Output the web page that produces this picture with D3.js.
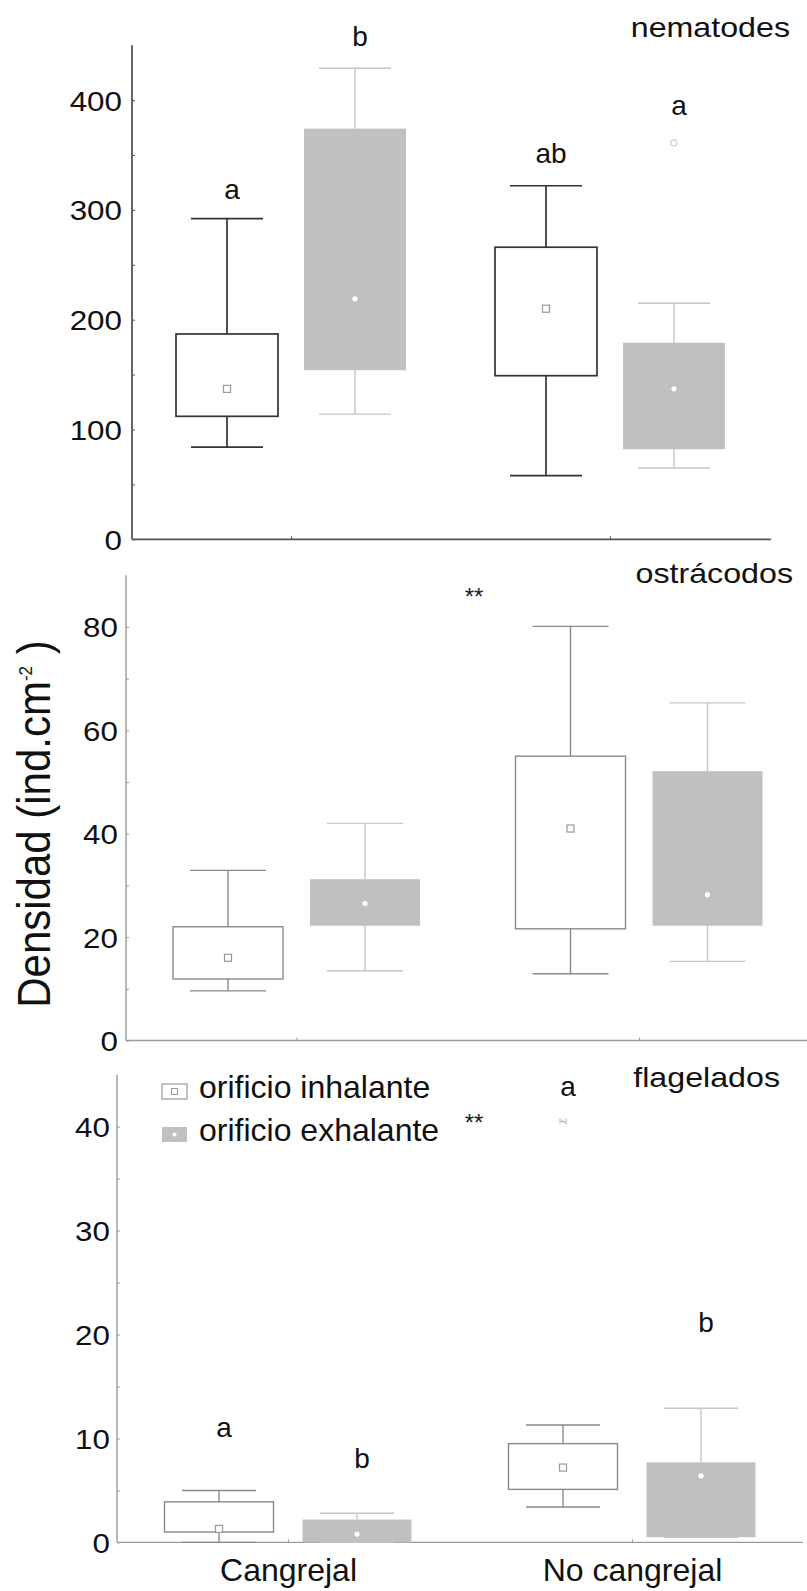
<!DOCTYPE html>
<html>
<head>
<meta charset="utf-8">
<script src="https://cdn.jsdelivr.net/npm/d3@7"></script>
<style>
  html, body { margin: 0; padding: 0; background: #fff; }
  svg { display: block; font-family: "Liberation Sans", Arial, sans-serif; }
</style>
</head>
<body>
<svg id="chart" width="807" height="1591"></svg>
<script>
// ---- data -------------------------------------------------------------
const categories = ["Cangrejal", "No cangrejal"];
const groups = ["orificio inhalante", "orificio exhalante"];

// box order: Cangrejal-inhalante, Cangrejal-exhalante, No cangrejal-inhalante, No cangrejal-exhalante
const nemMean   = [137, 219, 210, 137];
const nemQ1     = [112, 154, 149, 82];
const nemQ3     = [187, 374, 266, 179];
const nemMin    = [84, 114, 58, 65];
const nemMax    = [292, 429, 322, 215];
const nemOutliers = [{ box: 3, value: 361 }];
const nemLetters  = ["a", "b", "ab", "a"];
const nemLetterAt = [310, 449, 343, 386];

const ostMean   = [16.0, 26.5, 41.0, 28.2];
const ostQ1     = [11.9, 22.2, 21.6, 22.2];
const ostQ3     = [22.0, 31.2, 55.0, 52.1];
const ostMin    = [9.6, 13.5, 12.9, 15.3];
const ostMax    = [32.9, 42.0, 80.1, 65.3];

const flaMean   = [1.3, 0.8, 7.2, 6.4];
const flaQ1     = [1.0, 0.0, 5.1, 0.5];
const flaQ3     = [3.9, 2.2, 9.5, 7.7];
const flaMin    = [0.0, 0.0, 3.4, 0.5];
const flaMax    = [5.0, 2.8, 11.3, 12.9];
const flaExtremes = [{ box: 2, value: 40.5 }];
const flaLetters  = ["a", "b", "a", "b"];
const flaLetterAt = [10.1, 7.2, 42.9, 20.2];

const titles = ["nematodes", "ostrácodos", "flagelados"];
const nemTicks = [0, 100, 200, 300, 400];
const ostTicks = [0, 20, 40, 60, 80];
const flaTicks = [0, 10, 20, 30, 40];

// ---- drawing ----------------------------------------------------------
const svg = d3.select("#chart");
const GRAY = "#c0c0c0";
const LIGHT = "#c6c6c6";
const FONT = "'Liberation Sans', Arial, sans-serif";

function boxes(mean, q1, q3, mn, mx) {
  return mean.map((m, i) => ({
    cat: categories[Math.floor(i / 2)],
    grp: groups[i % 2],
    mean: m, q1: q1[i], q3: q3[i], min: mn[i], max: mx[i]
  }));
}

function panel(cfg) {
  const g = svg.append("g");
  const y = d3.scaleLinear().domain([0, cfg.top]).range([cfg.y0, cfg.y0 - cfg.top * cfg.ppu]);
  const x = d3.scalePoint().domain(categories).range(cfg.centers);
  const sub = d3.scalePoint().domain(groups).range([-cfg.offset, cfg.offset]);
  const cx = d => x(d.cat) + sub(d.grp);

  // y axis: major ticks with labels, minor ticks without, all pointing inward
  const yMinor = d3.axisLeft(y).tickValues(cfg.minor).tickFormat("").tickSize(-3);
  const yMajor = d3.axisLeft(y).tickValues(cfg.ticks).tickSize(-3).tickPadding(0);
  const ga = g.append("g").attr("transform", `translate(${cfg.axisX},0)`);
  ga.call(yMinor);
  const gm = ga.append("g").call(yMajor);
  ga.selectAll(".domain").remove();
  ga.append("line").attr("x1", 0).attr("x2", 0).attr("y1", y(0)).attr("y2", y(cfg.top))
    .attr("stroke", cfg.axisColor).attr("stroke-width", cfg.axisW);
  ga.selectAll(".tick line").attr("stroke", cfg.axisColor).attr("stroke-width", 1);
  gm.selectAll(".tick text")
    .attr("x", 0).attr("dy", "0.36em")
    .attr("transform", `translate(${-cfg.labelGap},0) scale(1.12,1)`)
    .attr("fill", "#111").style("font-size", "28px").style("font-family", FONT);

  // x axis
  const xAxis = d3.axisBottom(x).tickSize(-3).tickPadding(16);
  if (!cfg.xLabels) xAxis.tickFormat("");
  const gx = g.append("g").attr("transform", `translate(0,${y(0)})`).call(xAxis);
  gx.select(".domain").remove();
  gx.append("line").attr("x1", cfg.axisX).attr("x2", cfg.xEnd).attr("y1", 0).attr("y2", 0)
    .attr("stroke", cfg.axisColor).attr("stroke-width", cfg.axisW);
  gx.selectAll(".tick line").attr("stroke", cfg.axisColor);
  gx.selectAll(".tick text").attr("fill", "#111").style("font-size", "32px").style("font-family", FONT);

  const data = cfg.data;
  const hw = cfg.halfW, cw = cfg.capHW;
  const lineCol = d => d.grp === groups[0] ? cfg.inhColor : LIGHT;
  const lineW = d => d.grp === groups[0] ? cfg.inhW : 1.4;

  const b = g.selectAll("g.box").data(data).join("g").attr("class", "box");
  // whiskers and caps
  b.append("line").attr("x1", cx).attr("x2", cx)
    .attr("y1", d => y(d.max)).attr("y2", d => y(d.q3))
    .attr("stroke", lineCol).attr("stroke-width", lineW);
  b.append("line").attr("x1", cx).attr("x2", cx)
    .attr("y1", d => y(d.q1)).attr("y2", d => y(d.min))
    .attr("stroke", lineCol).attr("stroke-width", lineW);
  b.append("line").attr("x1", d => cx(d) - cw).attr("x2", d => cx(d) + cw)
    .attr("y1", d => y(d.max)).attr("y2", d => y(d.max))
    .attr("stroke", lineCol).attr("stroke-width", lineW);
  b.append("line").attr("x1", d => cx(d) - cw).attr("x2", d => cx(d) + cw)
    .attr("y1", d => y(d.min)).attr("y2", d => y(d.min))
    .attr("stroke", lineCol).attr("stroke-width", lineW);
  // boxes
  b.append("rect")
    .attr("x", d => cx(d) - hw).attr("width", 2 * hw)
    .attr("y", d => y(d.q3)).attr("height", d => y(d.q1) - y(d.q3))
    .attr("fill", d => d.grp === groups[0] ? "#fff" : GRAY)
    .attr("stroke", d => d.grp === groups[0] ? cfg.inhColor : "none")
    .attr("stroke-width", cfg.inhW);
  // mean markers
  b.filter(d => d.grp === groups[0]).append("rect")
    .attr("x", d => cx(d) - 3.5).attr("y", d => y(d.mean) - 3.5)
    .attr("width", 7).attr("height", 7)
    .attr("fill", "#fff").attr("stroke", "#999").attr("stroke-width", 1.2);
  b.filter(d => d.grp === groups[1]).append("circle")
    .attr("cx", cx).attr("cy", d => y(d.mean)).attr("r", 2.6).attr("fill", "#fff");

  // outliers (circle) and extremes
  (cfg.outliers || []).forEach(o => {
    g.append("circle").attr("cx", cx(data[o.box])).attr("cy", y(o.value)).attr("r", 3)
      .attr("fill", "#fff").attr("stroke", "#ccc").attr("stroke-width", 1.2);
  });
  (cfg.extremes || []).forEach(o => {
    const px = cx(data[o.box]), py = y(o.value);
    g.append("path")
      .attr("d", `M${px - 3},${py - 3}V${py + 3}M${px + 3},${py - 3}V${py + 3}M${px - 3},${py}H${px + 3}M${px - 1.5},${py - 2}L${px + 1.5},${py + 2}`)
      .attr("stroke", "#b8b8b8").attr("stroke-width", 1).attr("fill", "none");
  });

  // significance letters
  (cfg.letters || []).forEach((t, i) => {
    g.append("text").attr("x", cx(data[i]) + 5).attr("y", y(cfg.letterAt[i]))
      .attr("text-anchor", "middle").attr("fill", "#111").style("font-size", "28px").text(t);
  });

  // "**" between the two sites
  if (cfg.stars) {
    g.append("text").attr("x", cfg.starsX).attr("y", cfg.starsY)
      .attr("text-anchor", "middle").attr("fill", "#222").style("font-size", "24px").text("**");
  }

  // panel title
  g.append("text").attr("transform", `translate(${cfg.titleX},${cfg.titleY}) scale(1.13,1)`)
    .attr("text-anchor", "end").attr("fill", "#111").style("font-size", "28.5px").text(cfg.title);

  return { g, y, x, sub };
}

panel({
  data: boxes(nemMean, nemQ1, nemQ3, nemMin, nemMax),
  top: 450, y0: 539.3, ppu: 1.098, axisX: 132, xEnd: 771,
  centers: [291, 610], offset: 64, halfW: 51, capHW: 36,
  ticks: nemTicks, minor: [50, 150, 250, 350],
  axisColor: "#555", axisW: 1.8, inhColor: "#333", inhW: 1.7, labelGap: 10,
  outliers: nemOutliers, letters: nemLetters, letterAt: nemLetterAt,
  title: titles[0], titleX: 790, titleY: 37
});

panel({
  data: boxes(ostMean, ostQ1, ostQ3, ostMin, ostMax),
  top: 90, y0: 1040.5, ppu: 5.17, axisX: 126, xEnd: 807,
  centers: [296.5, 639], offset: 68.5, halfW: 55, capHW: 38,
  ticks: ostTicks, minor: [10, 30, 50, 70],
  axisColor: "#9a9a9a", axisW: 1.4, inhColor: "#8a8a8a", inhW: 1.4, labelGap: 8,
  stars: true, starsX: 474, starsY: 605,
  title: titles[1], titleX: 793, titleY: 583
});

panel({
  data: boxes(flaMean, flaQ1, flaQ3, flaMin, flaMax),
  top: 45, y0: 1542.4, ppu: 10.395, axisX: 117, xEnd: 803,
  centers: [288, 632], offset: 69, halfW: 54.5, capHW: 37,
  ticks: flaTicks, minor: [5, 15, 25, 35],
  axisColor: "#9a9a9a", axisW: 1.4, inhColor: "#8a8a8a", inhW: 1.4, labelGap: 7,
  extremes: flaExtremes, letters: flaLetters, letterAt: flaLetterAt,
  stars: true, starsX: 474, starsY: 1131, xLabels: true,
  title: titles[2], titleX: 780, titleY: 1087
});

// legend
const leg = svg.append("g").attr("transform", "translate(162,1084)");
groups.forEach((name, i) => {
  const row = leg.append("g").attr("transform", `translate(0,${i * 43})`);
  if (i === 0) {
    row.append("rect").attr("width", 25).attr("height", 15)
      .attr("fill", "#fff").attr("stroke", "#999").attr("stroke-width", 1.2);
    row.append("rect").attr("x", 9.5).attr("y", 4.5).attr("width", 6).attr("height", 6)
      .attr("fill", "#fff").attr("stroke", "#999").attr("stroke-width", 1);
  } else {
    row.append("rect").attr("width", 25).attr("height", 15).attr("fill", GRAY);
    row.append("circle").attr("cx", 12.5).attr("cy", 7.5).attr("r", 2).attr("fill", "#fff");
  }
  row.append("text").attr("x", 37).attr("y", 14).attr("fill", "#111")
    .style("font-size", "32px").text(name);
});

// y-axis title
const yt = svg.append("text")
  .attr("transform", "translate(50,824) scale(1.1,1) rotate(-90)")
  .attr("text-anchor", "middle").attr("fill", "#111").style("font-size", "42px");
yt.append("tspan").text("Densidad (ind.cm");
yt.append("tspan").attr("dy", -16).style("font-size", "17px").text("-2");
yt.append("tspan").attr("dy", 16).text(" )");
</script>
</body>
</html>
